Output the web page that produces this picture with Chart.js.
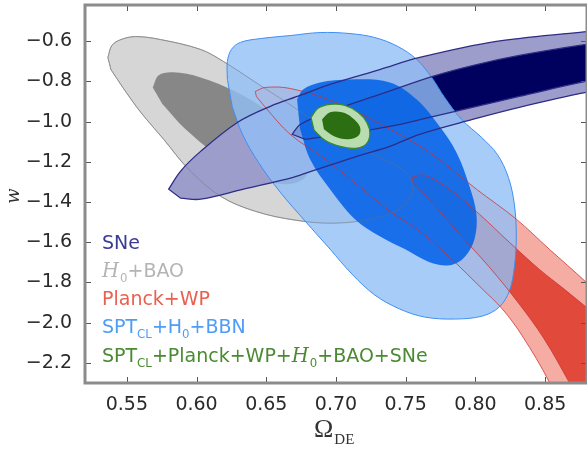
<!DOCTYPE html>
<html><head><meta charset="utf-8">
<script src="https://cdn.jsdelivr.net/npm/chart.js@4/dist/chart.umd.min.js"></script>
<style>html,body{margin:0;padding:0;background:#fff;}#wrap{width:587px;height:450px;}</style>
</head><body><div id="wrap"><canvas id="c" width="587" height="450"></canvas></div>
<script>
// axis ranges and ticks
const xRange = [0.52, 0.88];
const yRange = [-2.3, -0.42];
const xTicks = [0.55, 0.60, 0.65, 0.70, 0.75, 0.80, 0.85];
const yTicks = [-2.2, -2.0, -1.8, -1.6, -1.4, -1.2, -1.0, -0.8, -0.6];

// contour vertices (Omega_DE, w)
const h0baoOuter = [[0.5364,-0.681],[0.5393,-0.621],[0.5457,-0.592],[0.5564,-0.577],[0.5743,-0.592],[0.6029,-0.641],[0.6193,-0.701],[0.6457,-0.820],[0.6721,-0.939],[0.7007,-1.078],[0.7314,-1.178],[0.7514,-1.262],[0.755,-1.346],[0.7471,-1.426],[0.7279,-1.480],[0.6993,-1.505],[0.6707,-1.490],[0.6421,-1.446],[0.6171,-1.371],[0.5943,-1.237],[0.5764,-1.088],[0.56,-0.954],[0.5471,-0.830],[0.5386,-0.741]];
const h0baoInner = [[0.5686,-0.830],[0.5729,-0.770],[0.5829,-0.755],[0.6029,-0.780],[0.6279,-0.850],[0.6514,-0.949],[0.6707,-1.063],[0.68,-1.177],[0.6779,-1.277],[0.6636,-1.312],[0.6421,-1.272],[0.6171,-1.177],[0.5921,-1.038],[0.5757,-0.914]];
const sneOuter = [[0.58,-1.336],[0.5886,-1.246],[0.6029,-1.148],[0.6293,-1.004],[0.6529,-0.924],[0.6743,-0.870],[0.6957,-0.815],[0.7314,-0.741],[0.76,-0.681],[0.815,-0.601],[0.8793,-0.552],[0.9029,-0.532],[0.9029,-0.830],[0.8793,-0.855],[0.8314,-0.929],[0.7979,-0.989],[0.76,-1.063],[0.7386,-1.123],[0.7171,-1.168],[0.6864,-1.237],[0.6693,-1.277],[0.6336,-1.336],[0.6029,-1.386],[0.5886,-1.381]];
const sneInner = [[0.6686,-1.063],[0.6743,-1.014],[0.6957,-0.949],[0.7314,-0.865],[0.7693,-0.775],[0.7979,-0.721],[0.8314,-0.671],[0.8793,-0.616],[0.9029,-0.597],[0.9029,-0.780],[0.8793,-0.800],[0.8314,-0.875],[0.7979,-0.929],[0.7671,-0.979],[0.7386,-1.024],[0.7029,-1.063],[0.6779,-1.088]];
const planckOuter = [[0.6421,-0.850],[0.6493,-0.830],[0.6671,-0.835],[0.6979,-0.899],[0.7336,-1.019],[0.7671,-1.153],[0.8007,-1.336],[0.8293,-1.485],[0.8529,-1.634],[0.8793,-1.798],[0.9029,-1.957],[0.9029,-2.478],[0.8636,-2.478],[0.8529,-2.295],[0.8336,-2.066],[0.8193,-1.932],[0.805,-1.833],[0.7814,-1.674],[0.76,-1.545],[0.7386,-1.446],[0.715,-1.312],[0.6907,-1.178],[0.6671,-1.063],[0.6493,-0.929],[0.6429,-0.875]];
const planckInner = [[0.7543,-1.277],[0.7636,-1.267],[0.7814,-1.336],[0.8029,-1.461],[0.8243,-1.600],[0.8457,-1.734],[0.8636,-1.833],[0.8793,-1.922],[0.9029,-2.056],[0.9029,-2.478],[0.8814,-2.478],[0.8671,-2.295],[0.8493,-2.081],[0.8314,-1.907],[0.81,-1.724],[0.7886,-1.560],[0.7671,-1.390],[0.7557,-1.312]];
const sptOuter = [[0.6221,-0.790],[0.6221,-0.701],[0.625,-0.641],[0.6314,-0.606],[0.6457,-0.587],[0.6671,-0.572],[0.6886,-0.557],[0.71,-0.562],[0.7279,-0.582],[0.7443,-0.626],[0.7579,-0.691],[0.7686,-0.780],[0.7779,-0.880],[0.79,-0.989],[0.8043,-1.078],[0.8157,-1.163],[0.8236,-1.277],[0.8279,-1.411],[0.8293,-1.570],[0.8279,-1.724],[0.8243,-1.843],[0.8171,-1.922],[0.805,-1.967],[0.785,-1.982],[0.7636,-1.972],[0.7457,-1.932],[0.7279,-1.863],[0.7114,-1.758],[0.6957,-1.634],[0.6779,-1.495],[0.66,-1.351],[0.6443,-1.202],[0.6329,-1.063],[0.6257,-0.929]];
const sptInner = [[0.6721,-0.890],[0.6764,-0.840],[0.6886,-0.805],[0.71,-0.790],[0.7386,-0.805],[0.7579,-0.890],[0.7743,-1.024],[0.7864,-1.153],[0.7957,-1.321],[0.8007,-1.461],[0.7993,-1.585],[0.7921,-1.674],[0.7814,-1.714],[0.7671,-1.699],[0.7493,-1.634],[0.7314,-1.570],[0.7136,-1.485],[0.6957,-1.336],[0.6814,-1.187],[0.6743,-1.038]];
const combOuter = [[0.6821,-0.979],[0.6871,-0.934],[0.6957,-0.914],[0.7064,-0.919],[0.7157,-0.954],[0.7221,-1.004],[0.7243,-1.063],[0.7214,-1.113],[0.7136,-1.133],[0.7029,-1.123],[0.6921,-1.093],[0.6843,-1.043]];
const combInner = [[0.69,-0.989],[0.6957,-0.954],[0.7043,-0.954],[0.7114,-0.979],[0.7171,-1.024],[0.7164,-1.068],[0.7086,-1.088],[0.6986,-1.073],[0.6914,-1.038]];

// legend entries (text runs: n = normal, i = italic math, s = subscript)
const seriesNames = [
  [['SNe','n']],
  [['H','i'],['0','s'],['+BAO','n']],
  [['Planck+WP','n']],
  [['SPT','n'],['CL','s'],['+H','n'],['0','s'],['+BBN','n']],
  [['SPT','n'],['CL','s'],['+Planck+WP+','n'],['H','i'],['0','s'],['+BAO+SNe','n']]
];
const seriesColors = ['#3b3b95','#b4b4b4','#e8604f','#4f9cf6','#4a8a32'];

function pts(arr){ return arr.map(([x,y]) => ({x, y})); }
function shape(arr, color){
  return {data: pts(arr), showLine: true, fill: 'shape', backgroundColor: color, borderWidth: 0,
          pointRadius: 0, pointHoverRadius: 0, tension: 0.35, capBezierPoints: false};
}
function outline(arr, color, w){
  return {data: pts(arr), showLine: true, fill: false, borderColor: color, borderWidth: w,
          pointRadius: 0, pointHoverRadius: 0, tension: 0.35, capBezierPoints: false};
}
// bottom -> top
const layers = [
  shape(h0baoOuter, '#d6d6d6'),
  shape(h0baoInner, '#878787'),
  outline(h0baoOuter, '#a3a3a3', 1),
  shape(planckOuter, '#f5aca3'),
  shape(planckInner, '#e14a3a'),
  shape(sneOuter, '#9d9dcc'),
  shape(sneInner, '#00005e'),
  shape(sptOuter, 'rgba(146,191,246,0.8)'),
  shape(sptInner, 'rgba(0,95,230,0.85)'),
  outline(sptOuter, '#3f8ff2', 1),
  outline(h0baoOuter, 'rgba(110,110,110,0.45)', 1),
  outline(planckOuter, 'rgba(205,45,45,0.75)', 1),
  outline(planckInner, 'rgba(205,45,45,0.75)', 1),
  outline(sneOuter, '#2d2d85', 1.3),
  outline(sneInner, '#2d2d85', 1.3),
  shape(combOuter, '#b9dcb0'),
  outline(combOuter, '#3a8a25', 1.2),
  shape(combInner, '#2b6f12')
];
layers.forEach((d, i) => { d.order = -i; });

const loopPlugin = {
  id: 'loop',
  beforeDatasetsDraw(chart){
    chart.getSortedVisibleDatasetMetas().forEach(m => {
      const l = m.dataset;
      if (l && !l._loop) {
        l._loop = true; l._fullLoop = true;
        l._pointsUpdated = false; l._segments = undefined; l._path = undefined;
      }
    });
  }
};

function drawRich(ctx, runs, x, base, color, size){
  let cx = x;
  ctx.fillStyle = color;
  ctx.textBaseline = 'alphabetic';
  ctx.textAlign = 'left';
  for (const [t, k] of runs) {
    let dy = 0;
    if (k === 'n') ctx.font = size + 'px "DejaVu Sans"';
    else if (k === 'i') ctx.font = 'italic ' + (size + 0.5) + 'px "DejaVu Serif"';
    else { ctx.font = (size * 0.62) + 'px "DejaVu Sans"'; dy = 4.5; }
    ctx.fillText(t, cx, base + dy);
    cx += ctx.measureText(t).width + (k === 'i' ? 1 : 0);
  }
}

const decor = {
  id: 'decor',
  afterDraw(chart){
    const {ctx, chartArea: a, scales: {x, y}} = chart;
    ctx.save();
    // inward ticks on all sides
    ctx.strokeStyle = '#555'; ctx.lineWidth = 1;
    ctx.beginPath();
    xTicks.forEach(v => {
      const px = Math.round(x.getPixelForValue(v)) + 0.5;
      ctx.moveTo(px, a.bottom); ctx.lineTo(px, a.bottom - 6);
      ctx.moveTo(px, a.top); ctx.lineTo(px, a.top + 6);
    });
    yTicks.forEach(v => {
      const py = Math.round(y.getPixelForValue(v)) + 0.5;
      ctx.moveTo(a.left, py); ctx.lineTo(a.left + 6, py);
      ctx.moveTo(a.right, py); ctx.lineTo(a.right - 6, py);
    });
    ctx.stroke();
    // frame
    ctx.strokeStyle = '#8c8c8c'; ctx.lineWidth = 3;
    ctx.strokeRect(a.left, a.top, a.right - a.left, a.bottom - a.top);
    // legend
    const bases = [249, 277, 305, 333, 362];
    seriesNames.forEach((runs, i) => drawRich(ctx, runs, 102, bases[i], seriesColors[i], 19));
    // x title
    ctx.fillStyle = '#333';
    ctx.textBaseline = 'alphabetic'; ctx.textAlign = 'left';
    ctx.font = '26px "Liberation Serif"';
    ctx.fillText('\u03A9', 314, 437);
    const ow = ctx.measureText('\u03A9').width;
    ctx.font = '15px "Liberation Serif"';
    ctx.fillText('DE', 314 + ow + 1, 444);
    // y title
    ctx.save();
    ctx.translate(14, 196);
    ctx.rotate(-Math.PI / 2);
    ctx.textAlign = 'center'; ctx.textBaseline = 'middle';
    ctx.font = 'italic 18px "DejaVu Serif"';
    ctx.fillText('w', 0, 0);
    ctx.restore();
    ctx.restore();
  }
};

function fmt(v, d){ return (v < 0 ? '\u2212' : '') + Math.abs(v).toFixed(d); }

new Chart(document.getElementById('c'), {
  type: 'scatter',
  data: {datasets: layers},
  options: {
    responsive: false, animation: false, events: [],
    layout: {padding: {top: 5, right: 0, left: 0, bottom: 0}},
    plugins: {legend: {display: false}, tooltip: {enabled: false}},
    scales: {
      x: {
        type: 'linear', min: xRange[0], max: xRange[1],
        grid: {display: false}, border: {display: false},
        afterBuildTicks: s => { s.ticks = xTicks.map(v => ({value: v})); },
        afterFit: s => { s.height = 67; s.paddingLeft = 0; s.paddingRight = 0; },
        ticks: {callback: v => fmt(v, 2), color: '#2a2a2a', font: {family: 'DejaVu Sans', size: 19}, padding: 3, maxRotation: 0, autoSkip: false}
      },
      y: {
        type: 'linear', min: yRange[0], max: yRange[1],
        grid: {display: false}, border: {display: false},
        afterBuildTicks: s => { s.ticks = yTicks.map(v => ({value: v})); },
        afterFit: s => { s.width = 85; s.paddingTop = 0; s.paddingBottom = 0; },
        ticks: {callback: v => fmt(v, 1), color: '#2a2a2a', font: {family: 'DejaVu Sans', size: 19}, padding: 5, autoSkip: false}
      }
    }
  },
  plugins: [loopPlugin, decor]
});
</script></body></html>
